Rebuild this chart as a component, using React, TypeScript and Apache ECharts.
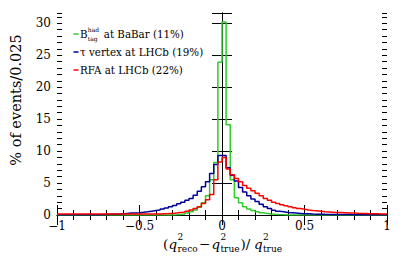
import React, { useEffect, useRef } from "react";
import * as echarts from "echarts";

const BIN_LO = -1;
const BIN_W = 0.025;

const greenBaBar = [
  0, 0, 0, 0, 0, 0, 0, 0, 0, 0,
  0, 0, 0, 0, 0, 0, 0, 0, 0, 0,
  0, 0, 0, 0, 0, 0, 0, 0, 0.03, 0.08,
  0.15, 0.3, 0.5, 0.8, 1.2, 1.9, 3.0, 5.5, 8.2, 23.9,
  30.2, 14.1, 5.5, 2.7, 1.9, 1.3, 0.95, 0.7, 0.5, 0.35,
  0.25, 0.15, 0.1, 0.06, 0.03, 0, 0, 0, 0, 0,
  0, 0, 0, 0, 0, 0, 0, 0, 0, 0,
  0, 0, 0, 0, 0, 0, 0, 0, 0, 0,
];

const blueTauVertex = [
  0.02, 0.02, 0.02, 0.03, 0.03, 0.03, 0.04, 0.04, 0.05, 0.05,
  0.06, 0.08, 0.1, 0.12, 0.15, 0.2, 0.25, 0.3, 0.33, 0.37,
  0.42, 0.5, 0.6, 0.7, 0.8, 0.95, 1.1, 1.3, 1.5, 1.75,
  2.0, 2.3, 2.6, 3.1, 3.7, 4.4, 5.2, 6.5, 7.9, 9.3,
  9.3, 7.4, 6.2, 5.3, 4.3, 3.6, 3.0, 2.5, 2.1, 1.7,
  1.3, 1.0, 0.75, 0.6, 0.5, 0.4, 0.35, 0.3, 0.25, 0.2,
  0.18, 0.15, 0.13, 0.12, 0.1, 0.09, 0.08, 0.07, 0.07, 0.06,
  0.06, 0.05, 0.05, 0.05, 0.04, 0.04, 0.04, 0.03, 0.03, 0.03,
];

const redRFA = [
  0.15, 0.15, 0.15, 0.15, 0.15, 0.15, 0.15, 0.15, 0.15, 0.15,
  0.15, 0.15, 0.15, 0.15, 0.15, 0.15, 0.15, 0.15, 0.15, 0.15,
  0.15, 0.15, 0.15, 0.15, 0.17, 0.2, 0.22, 0.25, 0.3, 0.38,
  0.45, 0.6, 0.8, 1.0, 1.3, 1.8, 2.4, 3.2, 5.5, 8.3,
  9.0, 7.2, 6.3, 5.7, 5.2, 4.6, 4.2, 3.8, 3.4, 3.0,
  2.6, 2.3, 2.0, 1.8, 1.6, 1.45, 1.3, 1.15, 1.0, 0.9,
  0.8, 0.72, 0.65, 0.58, 0.52, 0.48, 0.44, 0.41, 0.38, 0.35,
  0.32, 0.3, 0.27, 0.25, 0.23, 0.21, 0.2, 0.18, 0.17, 0.15,
];

const seriesNames = ["B_tag^had at BaBar (11%)", "τ vertex at LHCb (19%)", "RFA at LHCb (22%)"];
const seriesColors = ["#2ecc2e", "#000099", "#ff0000"];

const X_MIN = -1;
const X_MAX = 1;
const X_STEP = 0.5;
const Y_MIN = 0;
const Y_MAX = 31.6;
const Y_STEP = 5;

const SERIF = "DejaVu Serif";

function toSteps(values: number[]): number[][] {
  const pts = values.map((v, i) => [BIN_LO + i * BIN_W, v]);
  pts.push([BIN_LO + values.length * BIN_W, values[values.length - 1]]);
  return pts;
}

function fmtX(v: number): string {
  if (Math.abs(v - Math.round(v / X_STEP) * X_STEP) > 1e-6) return "";
  const s = String(Math.round(v * 100) / 100);
  return s.replace("-", "\u2212");
}

export default function App() {
  const ref = useRef<HTMLDivElement>(null);

  useEffect(() => {
    if (!ref.current) return;
    const chart = echarts.init(ref.current, undefined, { renderer: "svg" });

    const axisLine = { show: true, lineStyle: { color: "#000", width: 1 } };
    const baseX = {
      type: "value" as const,
      min: X_MIN,
      max: X_MAX,
      interval: X_STEP,
      axisLine,
      splitLine: { show: false },
      axisTick: { show: true, inside: true, length: 10, lineStyle: { color: "#000" } },
      minorTick: { show: true, splitNumber: 5, length: 5, lineStyle: { color: "#000" } },
    };
    const baseYMajor = {
      type: "value" as const,
      min: Y_MIN,
      max: Y_MAX,
      interval: Y_STEP,
      axisLine,
      splitLine: { show: false },
      axisTick: { show: true, inside: true, length: 10, lineStyle: { color: "#000" } },
    };
    const baseYMinor = {
      type: "value" as const,
      min: Y_MIN,
      max: Y_MAX,
      interval: 1,
      axisLine: { show: false },
      splitLine: { show: false },
      axisLabel: { show: false },
      axisTick: { show: true, inside: true, length: 5, lineStyle: { color: "#000" } },
    };

    const lineData = [greenBaBar, blueTauVertex, redRFA];

    const txt = (text: string, x: number, y: number, size: number, italic = false) => ({
      type: "text",
      x,
      y,
      style: {
        text,
        fill: "#000",
        fontFamily: SERIF,
        fontSize: size,
        fontStyle: italic ? "italic" : "normal",
        textAlign: "left",
        textVerticalAlign: "middle",
      },
    });

    const legendRowsY = [34, 52, 70];
    const LEG_FS = 10.3;
    const legendGraphics: any[] = [];
    legendRowsY.forEach((y, i) => {
      legendGraphics.push({
        type: "line",
        shape: { x1: 73.5, y1: y, x2: 78.5, y2: y },
        style: { stroke: seriesColors[i], lineWidth: 1.5 },
      });
    });
    legendGraphics.push(txt("B", 80, legendRowsY[0], LEG_FS));
    legendGraphics.push(txt("had", 87.8, legendRowsY[0] - 5, 6));
    legendGraphics.push(txt("tag", 87.8, legendRowsY[0] + 4.5, 6));
    legendGraphics.push(txt(" at BaBar (11%)", 100.5, legendRowsY[0], LEG_FS));
    legendGraphics.push(txt(seriesNames[1], 80, legendRowsY[1], LEG_FS));
    legendGraphics.push(txt(seriesNames[2], 80, legendRowsY[2], LEG_FS));

    const TY = 244;
    const TF = 13.5;
    const SF = 9;
    const SUP = TY - 7.5;
    const SUB = TY + 5;
    const titleGraphics = [
      txt("(", 163, TY, TF),
      txt("q", 168.5, TY, TF, true),
      txt("2", 177.5, SUP, SF),
      txt("reco", 177.5, SUB, SF),
      txt("\u2212", 199, TY, TF),
      txt("q", 211.5, TY, TF, true),
      txt("2", 220.5, SUP, SF),
      txt("true", 220.5, SUB, SF),
      txt(")/", 240.5, TY, TF),
      txt("q", 254, TY, TF, true),
      txt("2", 263, SUP, SF),
      txt("true", 263, SUB, SF),
    ];

    const yTitle = {
      type: "text",
      x: 16,
      y: 100,
      rotation: Math.PI / 2,
      style: {
        text: "% of events/0.025",
        fill: "#000",
        fontFamily: SERIF,
        fontSize: 14.5,
        textAlign: "center",
        textVerticalAlign: "middle",
      },
    };

    chart.setOption({
      animation: false,
      backgroundColor: "#fff",
      textStyle: { fontFamily: SERIF },
      grid: { left: 57, right: 20, top: 13, bottom: 41, containLabel: false },
      xAxis: [
        {
          ...baseX,
          position: "bottom",
          axisLabel: {
            show: true,
            color: "#000",
            fontFamily: SERIF,
            fontSize: 12,
            lineHeight: 12,
            margin: 5,
            formatter: (v: number) => fmtX(v),
          },
        },
        { ...baseX, position: "top", axisLabel: { show: false } },
      ],
      yAxis: [
        {
          ...baseYMajor,
          position: "left",
          axisLabel: {
            show: true,
            color: "#000",
            fontFamily: SERIF,
            fontSize: 12,
            margin: 6,
            formatter: (v: number) => (Math.abs(v % Y_STEP) < 1e-6 ? String(v) : ""),
          },
        },
        { ...baseYMajor, position: "right", axisLabel: { show: false } },
        { ...baseYMinor, position: "left" },
        { ...baseYMinor, position: "right" },
      ],
      series: lineData.map((vals, i) => ({
        name: seriesNames[i],
        type: "line",
        step: "end",
        xAxisIndex: 0,
        yAxisIndex: 0,
        symbol: "none",
        data: toSteps(vals),
        lineStyle: { color: seriesColors[i], width: 1.5 },
        z: 2 + i,
      })),
      graphic: [...legendGraphics, ...titleGraphics, yTitle],
    });

    return () => chart.dispose();
  }, []);

  return (
    <div
      ref={ref}
      style={{ position: "fixed", left: 0, top: 0, width: 407, height: 256, background: "#fff" }}
    />
  );
}
